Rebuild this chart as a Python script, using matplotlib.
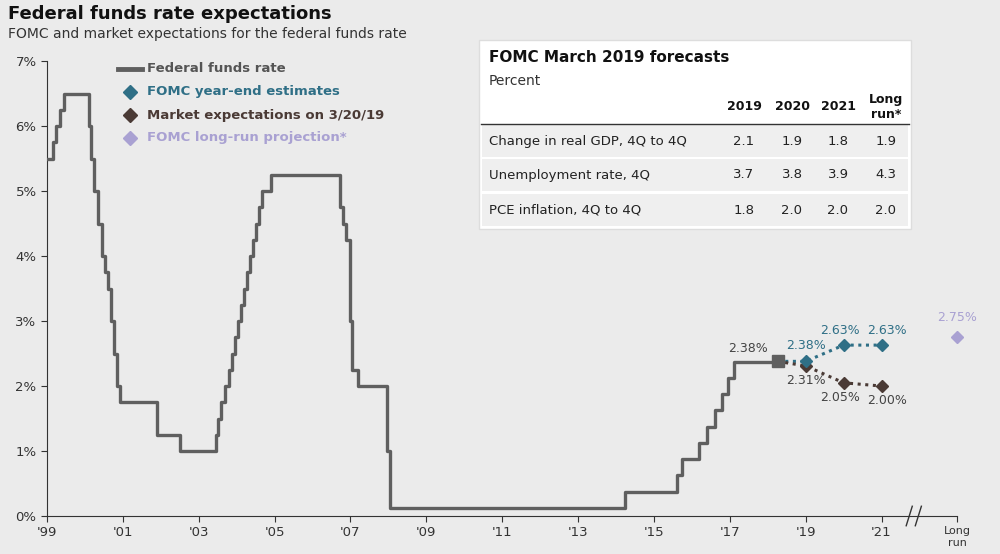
import matplotlib
matplotlib.use("Agg")
import matplotlib.pyplot as plt
from matplotlib.patches import Rectangle

# Federal funds rate step path (time, rate)
ffr_t = [1999.0, 1999.15, 1999.25, 1999.35, 1999.45, 2000.1, 2000.15, 2000.25, 2000.35, 2000.45,
         2000.52, 2000.6, 2000.68, 2000.76, 2000.84, 2000.92, 2001.9, 2002.5, 2003.45,
         2003.5, 2003.6, 2003.7, 2003.8, 2003.88, 2003.96, 2004.04, 2004.12, 2004.2, 2004.28,
         2004.36, 2004.44, 2004.52, 2004.6, 2004.68, 2004.76, 2004.9,
         2006.72, 2006.8, 2006.88, 2006.98, 2007.05, 2007.2, 2007.6, 2007.95, 2008.05,
         2014.23, 2015.15, 2015.6, 2015.75, 2015.9, 2016.2, 2016.4, 2016.6, 2016.8, 2016.95, 2017.1, 2017.3]
ffr_v = [5.5, 5.75, 6.0, 6.25, 6.5, 6.0, 5.5, 5.0, 4.5, 4.0,
         3.75, 3.5, 3.0, 2.5, 2.0, 1.75, 1.25, 1.0, 1.25,
         1.5, 1.75, 2.0, 2.25, 2.5, 2.75, 3.0, 3.25, 3.5, 3.75,
         4.0, 4.25, 4.5, 4.75, 5.0, 5.0, 5.25,
         4.75, 4.5, 4.25, 3.0, 2.25, 2.0, 2.0, 1.0, 0.125,
         0.375, 0.375, 0.625, 0.875, 0.875, 1.125, 1.375, 1.625, 1.875, 2.125, 2.375, 2.375]
ffr_end = 2018.26
last_rate = 2.38

fomc_years = [2019, 2020, 2021]
fomc_vals = [2.38, 2.63, 2.63]
mkt_vals = [2.31, 2.05, 2.00]
longrun_x = 2023
longrun_val = 2.75

tick_years = [1999, 2001, 2003, 2005, 2007, 2009, 2011, 2013, 2015, 2017, 2019, 2021]
tick_labels = ["'99", "'01", "'03", "'05", "'07", "'09", "'11", "'13", "'15", "'17", "'19", "'21"]

table_cols = ["2019", "2020", "2021", "Long\nrun*"]
table_rows = ["Change in real GDP, 4Q to 4Q", "Unemployment rate, 4Q", "PCE inflation, 4Q to 4Q"]
table_vals = [["2.1", "1.9", "1.8", "1.9"], ["3.7", "3.8", "3.9", "4.3"], ["1.8", "2.0", "2.0", "2.0"]]

BG = "#ebebeb"
GRAY = "#5f5f5f"
TEAL = "#2f6f86"
BROWN = "#4a3a35"
LAV = "#a9a1d2"

fig = plt.figure(figsize=(10, 5.54), dpi=100, facecolor=BG)
ax = fig.add_axes([0.047, 0.0686, 0.918, 0.821], facecolor=BG)

ts = ffr_t + [ffr_end]
vs = ffr_v + [ffr_v[-1]]
ax.step(ts, vs, where="post", color=GRAY, lw=2.4, zorder=3)
ax.plot([ffr_end], [last_rate], marker="s", ms=8, color=GRAY, zorder=5)

ax.plot([ffr_end] + fomc_years, [last_rate] + fomc_vals, ls=(0, (1, 1.5)), lw=2.2, color=TEAL, zorder=4)
ax.plot(fomc_years, fomc_vals, "D", ms=6, color=TEAL, ls="none", zorder=6)
ax.plot([ffr_end] + fomc_years, [last_rate] + mkt_vals, ls=(0, (1, 1.5)), lw=2.2, color=BROWN, zorder=4)
ax.plot(fomc_years, mkt_vals, "D", ms=6, color=BROWN, ls="none", zorder=5)
ax.plot([longrun_x], [longrun_val], "D", ms=6, color=LAV, zorder=5)

fs = 9
ax.text(ffr_end - 0.25, last_rate + 0.1, "2.38%", ha="right", va="bottom", fontsize=fs, color="#444")
ax.text(2019, fomc_vals[0] + 0.15, "2.38%", ha="center", va="bottom", fontsize=fs, color=TEAL)
for x, v, dx in zip(fomc_years[1:], fomc_vals[1:], (-0.1, 0.15)):
    ax.text(x + dx, v + 0.13, f"{v:.2f}%", ha="center", va="bottom", fontsize=fs, color=TEAL)
ax.text(2019, mkt_vals[0] - 0.13, "2.31%", ha="center", va="top", fontsize=fs, color="#444")
for x, v, dx in zip(fomc_years[1:], mkt_vals[1:], (-0.1, 0.15)):
    ax.text(x + dx, v - 0.13, f"{v:.2f}%", ha="center", va="top", fontsize=fs, color="#444")
ax.text(longrun_x, longrun_val + 0.2, "2.75%", ha="center", va="bottom", fontsize=fs, color=LAV)

ax.set_xlim(1999, 2023.2)
ax.set_ylim(0, 7)
ax.set_yticks(range(8))
ax.set_yticklabels([f"{i}%" for i in range(8)], fontsize=9.5, color="#333")
ax.set_xticks(tick_years + [longrun_x])
ax.set_xticklabels(tick_labels + ["Long\nrun"], fontsize=9.5, color="#333")
xl = ax.get_xticklabels()
xl[-1].set_fontsize(8)
for s in ["top", "right"]:
    ax.spines[s].set_visible(False)
ax.spines["bottom"].set_bounds(1999, 2023)
for s in ["left", "bottom"]:
    ax.spines[s].set_color("#333")
ax.tick_params(colors="#333", length=4)
# axis break marks
for dx in (-0.12, 0.12):
    ax.plot([2021.85 + dx - 0.08, 2021.85 + dx + 0.08], [-0.15, 0.15], color="#333", lw=1, clip_on=False, zorder=7)

# legend
lx0, lx1 = 0.118, 0.147
legend = [("Federal funds rate", GRAY, "line"), ("FOMC year-end estimates", TEAL, "D"),
          ("Market expectations on 3/20/19", BROWN, "D"), ("FOMC long-run projection*", LAV, "D")]
for i, (lab, c, m) in enumerate(legend):
    y = 1 - (69 + i * 23) / 554
    if m == "line":
        fig.add_artist(plt.Line2D([lx0, lx0 + 0.024], [y, y], color=c, lw=3.5))
    else:
        fig.add_artist(plt.Line2D([lx0 + 0.012], [y], marker="D", color=c, ms=7, ls="none"))
    fig.text(lx1, y, lab, fontsize=9.5, fontweight="bold", color=c if i else "#555", va="center")

fig.text(0.008, 1 - 14 / 554, "Federal funds rate expectations", fontsize=13, fontweight="bold", va="center", color="#111")
fig.text(0.008, 1 - 34 / 554, "FOMC and market expectations for the federal funds rate", fontsize=10, va="center", color="#333")

# table box
W, H = 1000, 554
def fx(p): return p / W
def fy(p): return 1 - p / H
fig.patches.append(Rectangle((fx(479), fy(229)), fx(432), 189 / H, transform=fig.transFigure,
                             facecolor="white", edgecolor="#dddddd", lw=1))
fig.text(fx(489), fy(58), "FOMC March 2019 forecasts", fontsize=11, fontweight="bold", va="center", color="#111")
fig.text(fx(489), fy(81), "Percent", fontsize=10, va="center", color="#333")
col_x = [744, 792, 838, 886]
for cx, c in zip(col_x, table_cols):
    fig.text(fx(cx), fy(107), c, fontsize=9, fontweight="bold", ha="center", va="center", color="#111")
fig.add_artist(plt.Line2D([fx(481), fx(909)], [fy(124), fy(124)], color="#333", lw=1))
row_y = [141, 175, 210]
for r, (lab, vals) in enumerate(zip(table_rows, table_vals)):
    fig.patches.append(Rectangle((fx(482), fy(row_y[r] + 16)), fx(426), 32 / H, transform=fig.transFigure,
                                 facecolor="#efefef", edgecolor="none"))
    fig.text(fx(489), fy(row_y[r]), lab, fontsize=9.5, va="center", color="#222")
    for cx, v in zip(col_x, vals):
        fig.text(fx(cx), fy(row_y[r]), v, fontsize=9.5, ha="center", va="center", color="#222")

fig.savefig("out.png", dpi=100, facecolor=BG)
